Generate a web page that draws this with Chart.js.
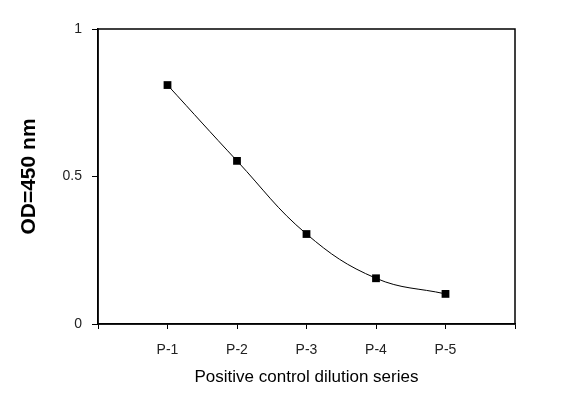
<!DOCTYPE html>
<html>
<head>
<meta charset="utf-8">
<script src="https://cdn.jsdelivr.net/npm/chart.js@4"></script>
<style>
  html, body { margin: 0; padding: 0; background: #fff; }
  #wrap { width: 566px; height: 397px; }
</style>
</head>
<body>
<div id="wrap"><canvas id="c" width="566" height="397"></canvas></div>
<script>
const categories = ['P-1', 'P-2', 'P-3', 'P-4', 'P-5'];
const odValues = [0.81, 0.553, 0.305, 0.155, 0.102];
const yTickLabels = ['0', '0.5', '1'];
const xTitle = 'Positive control dilution series';
const yTitle = 'OD=450 nm';

const points = categories.map((c, i) => ({ x: i + 1, y: odValues[i] }));

const frame = {
  id: 'frame',
  afterDraw(chart) {
    const { ctx, chartArea: a } = chart;
    ctx.save();
    ctx.strokeStyle = '#000';
    ctx.lineWidth = 1.5;
    ctx.strokeRect(a.left, a.top, a.right - a.left, a.bottom - a.top);
    ctx.restore();
  }
};

new Chart(document.getElementById('c'), {
  type: 'scatter',
  data: {
    datasets: [{
      data: points,
      showLine: true,
      borderColor: '#000',
      borderWidth: 1,
      tension: 0.4,
      pointStyle: 'rect',
      pointRadius: 5.5,
      pointBorderWidth: 0,
      pointBackgroundColor: '#000',
      pointBorderColor: '#000'
    }]
  },
  options: {
    responsive: false,
    animation: false,
    devicePixelRatio: 1,
    layout: { padding: { left: 0, right: 51, top: 29, bottom: 0 } },
    plugins: { legend: { display: false }, tooltip: { enabled: false } },
    scales: {
      x: {
        type: 'linear',
        min: 0, max: 6,
        afterFit(s) { s.height = 73; },
        ticks: {
          stepSize: 1,
          padding: 13,
          color: '#222',
          font: { family: 'Liberation Sans, Arial, sans-serif', size: 14 },
          maxRotation: 0,
          callback: v => categories[v - 1] || ''
        },
        grid: { drawOnChartArea: false, drawTicks: true, tickLength: 5, color: '#000', lineWidth: 1 },
        border: { color: '#000', width: 1.5 },
        title: {
          display: true, text: xTitle, color: '#000',
          font: { family: 'Liberation Sans, Arial, sans-serif', size: 17 },
          padding: { top: 0, bottom: 9 }
        }
      },
      y: {
        min: 0, max: 1,
        afterFit(s) { s.width = 98; },
        ticks: {
          stepSize: 0.5,
          padding: 10,
          color: '#222',
          font: { family: 'Liberation Sans, Arial, sans-serif', size: 14 },
          callback: (v, i) => yTickLabels[i]
        },
        grid: { drawOnChartArea: false, drawTicks: true, tickLength: 6, color: '#000', lineWidth: 1 },
        border: { color: '#000', width: 1.5 },
        title: {
          display: true, text: yTitle, color: '#000',
          font: { family: 'Liberation Sans, Arial, sans-serif', size: 21, weight: 'bold' },
          padding: { top: 17, bottom: 0 }
        }
      }
    }
  },
  plugins: [frame]
});
</script>
</body>
</html>
